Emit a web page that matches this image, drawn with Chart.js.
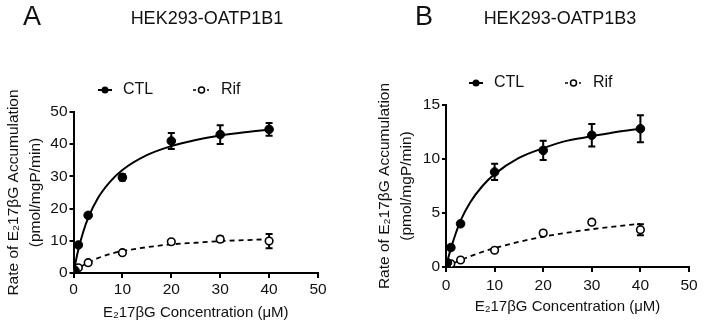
<!DOCTYPE html>
<html>
<head>
<meta charset="utf-8">
<script src="https://cdn.jsdelivr.net/npm/chart.js@4.4.1/dist/chart.umd.min.js"></script>
<style>
  body { margin:0; background:#fff; width:704px; height:327px; overflow:hidden; position:relative; font-family:'Liberation Sans', Arial, sans-serif; color:#111; }
  .panel { position:absolute; top:0; width:352px; height:327px; }
  .panel canvas { position:absolute; left:0; top:0; }
  .letter { position:absolute; font-size:27px; line-height:1; }
  .ttl { position:absolute; font-size:18px; line-height:1; white-space:nowrap; transform:translateX(-50%); }
</style>
</head>
<body>
<div class="panel" style="left:0">
  <canvas id="chartA" width="352" height="327"></canvas>
  <div class="letter" style="left:23px;top:3px">A</div>
  <div class="ttl" style="left:207px;top:9px">HEK293-OATP1B1</div>
</div>
<div class="panel" style="left:352px">
  <canvas id="chartB" width="352" height="327"></canvas>
  <div class="letter" style="left:63px;top:3px">B</div>
  <div class="ttl" style="left:208px;top:9px">HEK293-OATP1B3</div>
</div>
<script>
// measured concentrations (uM)
const conc = [0, 0.3, 1, 3, 10, 20, 30, 40];

// panel A - OATP1B1
const ctlA    = [0.2, 0.8, 8.7, 17.9, 29.7, 41.0, 43.0, 44.6];
const ctlErrA = [0, 0, 0.4, 0.5, 1.0, 2.5, 2.9, 2.0];
const rifA    = [0, 0.4, 1.6, 3.2, 6.3, 9.7, 10.5, 9.9];
const rifErrA = [0, 0, 0.3, 0.3, 0.4, 0.5, 0.8, 2.2];

// panel B - OATP1B3
const ctlB    = [0, 0.4, 1.8, 4.0, 8.8, 10.8, 12.2, 12.8];
const ctlErrB = [0, 0, 0.2, 0.2, 0.75, 0.9, 1.05, 1.25];
const rifB    = [0, 0.3, 0.3, 0.65, 1.55, 3.15, 4.15, 3.45];
const rifErrB = [0, 0, 0.1, 0.1, 0.15, 0.2, 0.2, 0.5];

// fitted curves
const fitX      = [0, 0.5, 1, 2, 3, 5, 7.5, 10, 15, 20, 25, 30, 35, 40];
const ctlFitA   = [0, 3.9, 7.3, 12.8, 17.1, 23.3, 28.4, 32.0, 36.6, 39.4, 41.3, 42.7, 43.7, 44.5];
const rifFitA   = [0, 0.7, 1.3, 2.4, 3.2, 4.6, 5.9, 6.8, 8.0, 8.9, 9.4, 9.9, 10.2, 10.5];
const ctlFitB   = [0, 0.9, 1.7, 3.1, 4.3, 6.0, 7.5, 8.6, 10.1, 11.0, 11.7, 12.1, 12.5, 12.8];
const rifFitB   = [0, 0.12, 0.23, 0.44, 0.64, 1.0, 1.4, 1.75, 2.33, 2.8, 3.18, 3.5, 3.77, 4.0];

const xTicks = [0, 10, 20, 30, 40, 50];

const pts = (xs, ys) => xs.map((x, i) => ({ x: x, y: ys[i] }));

// error bars drawn under the markers
const errorBars = {
  id: 'errorBars',
  beforeDatasetsDraw(chart) {
    const ctx = chart.ctx;
    const ys = chart.scales.y, xs = chart.scales.x;
    ctx.save();
    ctx.strokeStyle = '#000';
    ctx.lineWidth = 2;
    chart.data.datasets.forEach(ds => {
      if (!ds.errors) return;
      ds.data.forEach((p, i) => {
        const e = ds.errors[i];
        if (!e) return;
        const px = xs.getPixelForValue(p.x);
        const top = ys.getPixelForValue(p.y + e);
        const bot = ys.getPixelForValue(p.y - e);
        ctx.beginPath();
        ctx.moveTo(px, top); ctx.lineTo(px, bot);
        ctx.moveTo(px - 3.5, top); ctx.lineTo(px + 3.5, top);
        ctx.moveTo(px - 3.5, bot); ctx.lineTo(px + 3.5, bot);
        ctx.stroke();
      });
    });
    ctx.restore();
  }
};

// legend with line + marker keys
const keyLegend = {
  id: 'keyLegend',
  afterDraw(chart, args, o) {
    const ctx = chart.ctx;
    ctx.save();
    ctx.strokeStyle = '#000';
    ctx.fillStyle = '#000';
    ctx.lineWidth = 2;
    // CTL
    ctx.beginPath();
    ctx.moveTo(o.ctlX, o.y); ctx.lineTo(o.ctlX + 14, o.y);
    ctx.stroke();
    ctx.beginPath();
    ctx.arc(o.ctlX + 7, o.y, 3.5, 0, Math.PI * 2);
    ctx.fill();
    // Rif
    ctx.lineWidth = 1.5;
    ctx.beginPath();
    ctx.moveTo(o.rifX, o.y); ctx.lineTo(o.rifX + 3, o.y);
    ctx.moveTo(o.rifX + 14, o.y); ctx.lineTo(o.rifX + 16, o.y);
    ctx.stroke();
    ctx.beginPath();
    ctx.arc(o.rifX + 8.5, o.y, 3, 0, Math.PI * 2);
    ctx.stroke();
    ctx.font = '16px "Liberation Sans", Arial, sans-serif';
    ctx.textBaseline = 'middle';
    ctx.fillStyle = '#111';
    ctx.fillText('CTL', o.ctlX + 25, o.y);
    ctx.fillText('Rif', o.rifX + 28, o.y);
    ctx.restore();
  }
};

Chart.defaults.font.family = '"Liberation Sans", Arial, sans-serif';
Chart.defaults.color = '#111';

function makeChart(id, ctl, ctlErr, rif, rifErr, ctlFit, rifFit, yMax, yStep, geo) {
  return new Chart(document.getElementById(id), {
    type: 'scatter',
    data: {
      datasets: [
        { label: 'CTL', data: pts(conc, ctl), errors: ctlErr,
          pointRadius: 4.3, pointBackgroundColor: '#000', pointBorderColor: '#000', pointBorderWidth: 1 },
        { label: 'Rif', data: pts(conc, rif), errors: rifErr,
          pointRadius: 3.8, pointBackgroundColor: '#fff', pointBorderColor: '#000', pointBorderWidth: 1.6 },
        { label: 'CTL fit', data: pts(fitX, ctlFit), showLine: true, pointRadius: 0,
          borderColor: '#000', borderWidth: 2, cubicInterpolationMode: 'monotone' },
        { label: 'Rif fit', data: pts(fitX, rifFit), showLine: true, pointRadius: 0,
          borderColor: '#000', borderWidth: 1.8, borderDash: [5, 4], cubicInterpolationMode: 'monotone' },
      ]
    },
    options: {
      responsive: false,
      animation: false,
      layout: { padding: { top: geo.top, right: geo.right, left: 0, bottom: 0 } },
      plugins: {
        legend: { display: false },
        tooltip: { enabled: false },
        keyLegend: { ctlX: geo.ctlX, rifX: geo.rifX, y: geo.keyY },
      },
      scales: {
        x: {
          min: 0, max: 50,
          afterFit: s => { s.height = geo.xh; },
          afterBuildTicks: s => { s.ticks = xTicks.map(v => ({ value: v })); },
          grid: { drawOnChartArea: false, drawTicks: true, tickLength: 5, color: '#000', lineWidth: 2 },
          border: { color: '#000', width: 2 },
          ticks: { font: { size: 15.5 }, padding: geo.xPad, maxRotation: 0 },
          title: { display: true, text: 'E₂17βG Concentration (μM)', font: { size: 15 },
                   padding: { top: 0, bottom: geo.xTitlePad } }
        },
        y: {
          min: 0, max: yMax,
          afterFit: s => { s.width = geo.yw; },
          grid: { drawOnChartArea: false, drawTicks: true, tickLength: 4, color: '#000', lineWidth: 2 },
          border: { color: '#000', width: 2 },
          ticks: { stepSize: yStep, font: { size: 15.5 }, padding: 2 },
          title: { display: true, text: ['Rate of E₂17βG Accumulation', '(pmol/mgP/min)'],
                   font: { size: 15.5, lineHeight: 1.39 }, padding: { top: geo.yTitlePad, bottom: 0 } }
        }
      }
    },
    plugins: [errorBars, keyLegend]
  });
}

makeChart('chartA', ctlA, ctlErrA, rifA, rifErrA, ctlFitA, rifFitA, 50, 10,
  { top: 112, right: 34, xh: 54, yw: 73.5, xPad: 2, xTitlePad: 5, yTitlePad: 3, ctlX: 98, rifX: 193, keyY: 90 });
makeChart('chartB', ctlB, ctlErrB, rifB, rifErrB, ctlFitB, rifFitB, 15, 5,
  { top: 105, right: 15, xh: 60, yw: 94, xPad: 4, xTitlePad: 11, yTitlePad: 22, ctlX: 117, rifX: 213, keyY: 83 });
</script>
</body>
</html>
